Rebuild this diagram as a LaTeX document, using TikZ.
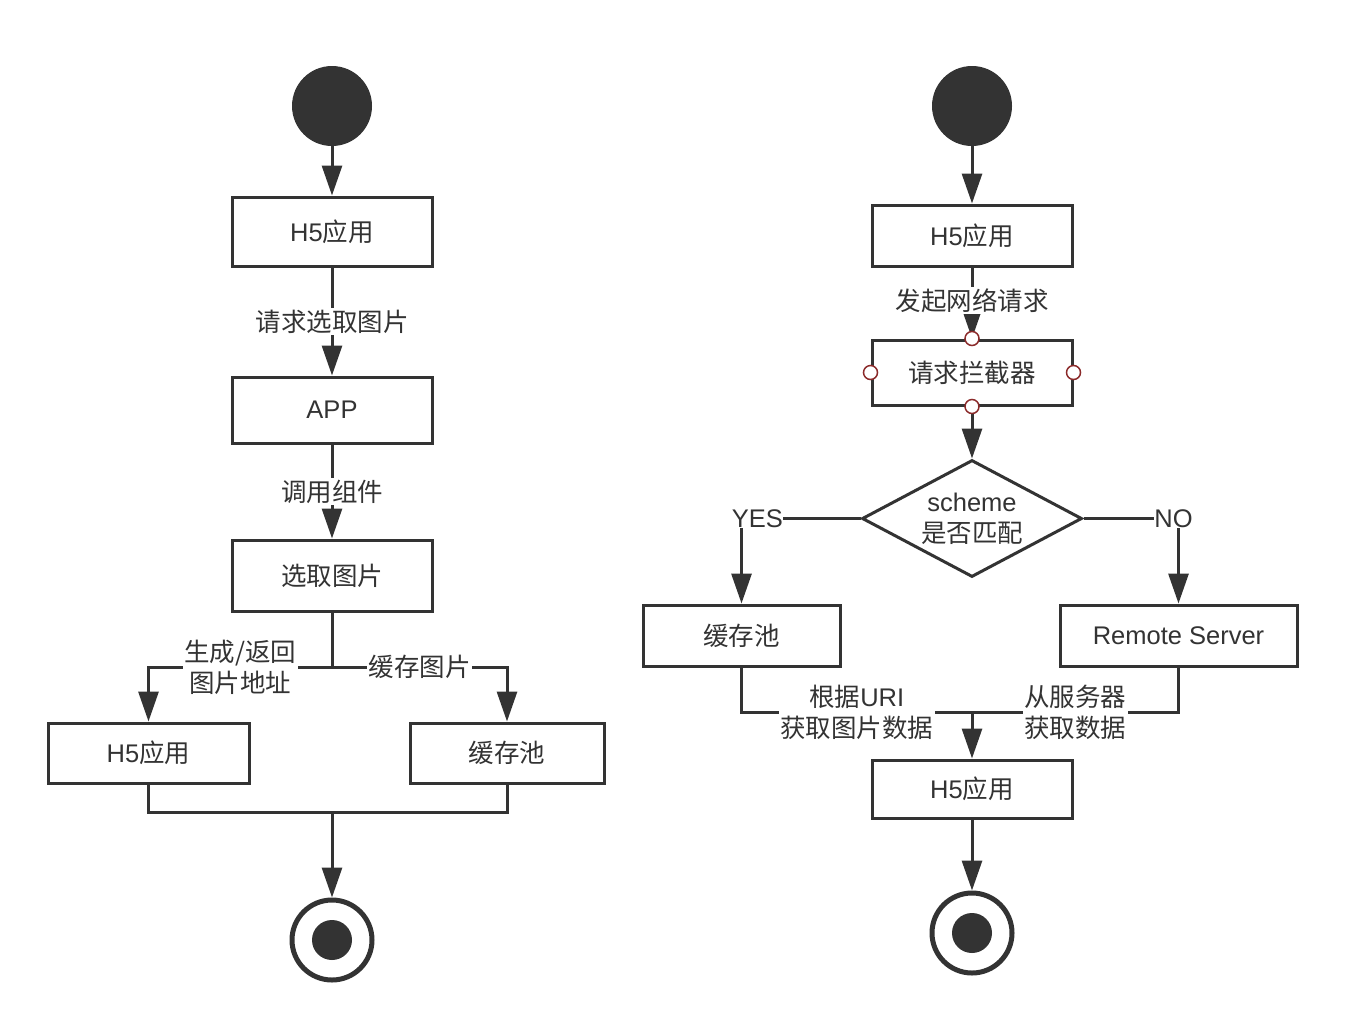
\documentclass[tikz,border=0pt]{standalone}
\usepackage{fontspec}
\setmainfont{Liberation Sans}
\newfontfamily\cjk{Noto Sans CJK SC}
\usetikzlibrary{arrows.meta,shapes.geometric}
\definecolor{lc}{HTML}{333333}
\definecolor{rc}{HTML}{8B2A2A}
\newcommand\zhs[1]{{\cjk #1}}
\begin{document}
\begin{tikzpicture}[x=1pt,y=-1pt,
  every node/.style={text=lc, font=\fontsize{25.5}{31}\selectfont},
  stepbox/.style={draw=lc, line width=3pt, fill=white, inner sep=0pt, minimum width=200pt},
  lbl/.style={fill=white, inner sep=1.5pt, align=center},
  arr/.style={draw=lc, line width=3pt, -{Triangle[length=30pt,width=20pt]}},
  ln/.style={draw=lc, line width=3pt},
  startc/.style={circle, fill=lc, minimum size=80pt, inner sep=0pt},
  endc/.style={circle, draw=lc, line width=5pt, fill=white, minimum size=80pt, inner sep=0pt},
  port/.style={circle, draw=rc, line width=1.5pt, fill=white, minimum size=14pt, inner sep=0pt},
  decision/.style={diamond, aspect=1.88, draw=lc, line width=3pt, fill=white, inner sep=0pt, minimum width=220pt, minimum height=117pt, align=center}
]
\useasboundingbox (0,0) rectangle (1362,1026);
\fill[white] (0,0) rectangle (1362,1026);

% ---------- left flow ----------
\node[startc] (s1) at (332,106) {};
\node[stepbox, minimum height=69pt] (h5a) at (332,231.5) {H5\zhs{应用}};
\node[stepbox, minimum height=66pt] (app) at (332,410) {APP};
\node[stepbox, minimum height=71pt] (sel) at (332,575.5) {\zhs{选取图片}};
\node[stepbox, minimum width=201pt, minimum height=60pt] (h5b) at (148.5,753) {H5\zhs{应用}};
\node[stepbox, minimum width=194pt, minimum height=60pt] (cpa) at (507,753) {\zhs{缓存池}};
\node[endc] (e1) at (332,940) {};
\fill[lc] (e1.center) circle[radius=20];
\coordinate (j1) at (332,667);
\coordinate (j2) at (332,812);

\draw[arr] (s1) -- (h5a);
\draw[arr] (h5a) -- node[lbl] {\zhs{请求选取图片}} (app);
\draw[arr] (app) -- node[lbl] {\zhs{调用组件}} (sel);
\draw[ln] (sel.south) -- (j1);
\draw[arr] (j1) -| node[lbl, pos=0.25] {\zhs{生成/返回}\\\zhs{图片地址}} (h5b.north);
\draw[arr] (j1) -| node[lbl, pos=0.25] {\zhs{缓存图片}} (cpa.north);
\draw[ln] (h5b.south) |- (j2);
\draw[ln] (cpa.south) |- (j2);
\draw[arr] (j2) -- (e1.north);

% ---------- right flow ----------
\node[startc] (s2) at (972,106) {};
\node[stepbox, minimum height=61pt] (h5c) at (972,235.5) {H5\zhs{应用}};
\node[stepbox, minimum height=65pt] (itc) at (972,372.5) {\zhs{请求拦截器}};
\node[decision] (dia) at (972,518.5) {scheme\\\zhs{是否匹配}};
\node[stepbox, minimum width=197pt, minimum height=61pt] (cpb) at (741.5,635.5) {\zhs{缓存池}};
\node[stepbox, minimum width=237pt, minimum height=61pt] (rs) at (1178.5,635.5) {Remote Server};
\node[stepbox, minimum height=58pt] (h5d) at (972,789) {H5\zhs{应用}};
\node[endc] (e2) at (972,933) {};
\fill[lc] (e2.center) circle[radius=20];
\coordinate (j3) at (972,712);

\draw[arr] (s2) -- (h5c);
\draw[arr] (h5c) -- node[lbl, pos=0.47] {\zhs{发起网络请求}} (itc);
\draw[arr] (itc) -- (dia.north);
\draw[arr] (dia.west) -| node[lbl, pos=0.433, inner sep=0.5pt] {YES} (cpb.north);
\draw[arr] (dia.east) -| node[lbl, pos=0.474, inner sep=0.5pt] {NO} (rs.north);
\draw[ln] (cpb.south) |- node[lbl, pos=0.75] {\zhs{根据}URI\\\zhs{获取图片数据}} (j3);
\draw[ln] (rs.south) |- node[lbl, pos=0.75] {\zhs{从服务器}\\\zhs{获取数据}} (j3);
\draw[arr] (j3) -- (h5d.north);
\draw[arr] (h5d) -- (e2.north);

% ports on interceptor
\node[port] (pn) at (itc.north) {};
\node[port] (ps) at (itc.south) {};
\node[port] (pw) at (itc.west) {};
\node[port] (pe) at (itc.east) {};
\end{tikzpicture}
\end{document}
